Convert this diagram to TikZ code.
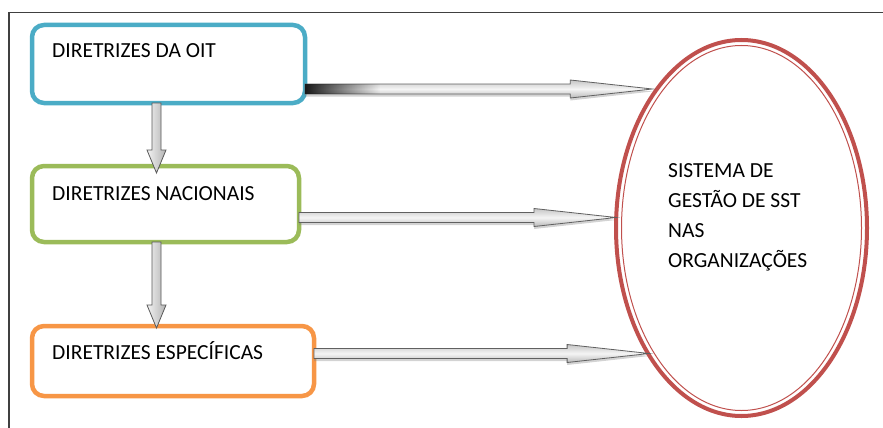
\documentclass[tikz,border=0pt]{standalone}
\usepackage{fontspec}
\setmainfont{Carlito}
\usetikzlibrary{shapes.geometric,calc,shadows,fadings}
\definecolor{oitblue}{HTML}{4BACC6}
\definecolor{natgreen}{HTML}{9BBB59}
\definecolor{espOrange}{HTML}{F79646}
\definecolor{sstred}{HTML}{C0504D}
\begin{document}
\begin{tikzpicture}[x=1pt,y=-1pt,
  frameline/.style={draw=black!75, line width=1.3pt},
  guidebox/.style={draw=#1, line width=4.5pt, rounded corners=12pt, fill=white,
    inner sep=0pt, outer sep=0pt},
  boxlabel/.style={anchor=base west, inner sep=0pt,
    font=\fontsize{21.5}{25}\selectfont},
  sstlabel/.style={anchor=north west, inner sep=0pt, align=left,
    font=\fontsize{21.5}{30}\selectfont},
  % horizontal block arrow: runs right from the start point to the x of the target
  harrow/.style={to path={let \p1=(\tikztostart), \p2=(\tikztotarget) in
    (\x1,\y1+5pt) -- (\x2-82pt,\y1+5pt) -- (\x2-82pt,\y1+9pt) -- (\x2,\y1)
    -- (\x2-82pt,\y1-9pt) -- (\x2-82pt,\y1-5pt) -- (\x1,\y1-5pt) -- cycle}},
  % vertical block arrow: runs down from the start point to the y of the target
  varrow/.style={to path={let \p1=(\tikztostart), \p2=(\tikztotarget) in
    (\x1-4.5pt,\y1) -- (\x1-4.5pt,\y2+23pt) -- (\x1-9.5pt,\y2+23pt) -- (\x1,\y2)
    -- (\x1+9.5pt,\y2+23pt) -- (\x1+4.5pt,\y2+23pt) -- (\x1+4.5pt,\y1) -- cycle}},
  hpaint/.style={draw=gray!75!black, line width=0.8pt,
    top color=gray!45, bottom color=gray!55, middle color=gray!8,
    drop shadow={shadow xshift=0pt, shadow yshift=-2.5pt, opacity=0.35, fill=gray}},
  vpaint/.style={draw=gray!70!black, line width=0.8pt,
    left color=gray!10, right color=gray!60},
]
\useasboundingbox (0,0) rectangle (883,428);

% page frame
\draw[frameline] (9,428) -- (9,12.5) -- (883,12.5);

% guideline boxes
\node[guidebox=oitblue, minimum width=273pt, minimum height=78pt] (b1) at (168.5,64) {};
\node[guidebox=natgreen, minimum width=267pt, minimum height=76pt] (b2) at (165.5,204) {};
\node[guidebox=espOrange, minimum width=282pt, minimum height=70pt] (b3) at (173,361) {};
\node[boxlabel] (l1) at ($(b1.north west)+(20,33)$) {DIRETRIZES DA OIT};
\node[boxlabel] (l2) at ($(b2.north west)+(20,34)$) {DIRETRIZES NACIONAIS};
\node[boxlabel] (l3) at ($(b3.north west)+(20,33)$) {DIRETRIZES ESPECÍFICAS};

% management system ellipse (double red outline)
\node[draw=sstred, line width=4pt, ellipse, minimum width=251pt, minimum height=376pt,
  inner sep=0pt, outer sep=0pt] (sst) at (741.5,228) {};
\draw[sstred, line width=1pt] (sst.center) ellipse [x radius=120pt, y radius=182.5pt];
\node[sstlabel] (sl) at (668,163) {SISTEMA DE\\GESTÃO DE SST\\NAS\\ORGANIZAÇÕES};

% arrows between the boxes
\path[vpaint] ($(b1.south)+(-12,0)$) to[varrow] ($(b2.north)+(-9,7)$);
\path[vpaint] ($(b2.south)+(-9,0)$) to[varrow] ($(b3.north)+(-16.5,2)$);

% arrows into the ellipse
\path[hpaint] (b1.east |- 0,89) to[harrow] (sst.124);
\fill[black!90, path fading=east] ($(b1.east |- 0,89)+(0,-5)$) rectangle ($(b1.east |- 0,89)+(75,5)$);
\path[hpaint] (b2.east |- 0,217.5) to[harrow] (sst.177);
\path[hpaint] (b3.east |- 0,353.5) to[harrow] (sst.234);
\end{tikzpicture}
\end{document}
